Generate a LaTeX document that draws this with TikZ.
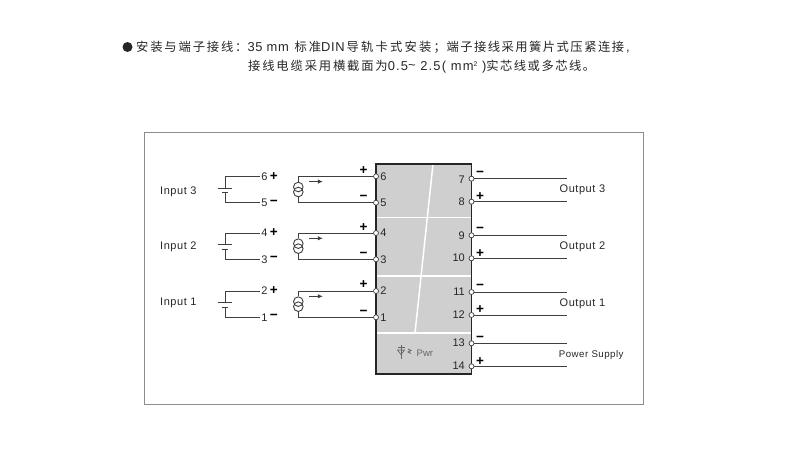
\documentclass[tikz,border=0pt]{standalone}
\usepackage{fontspec}
\setmainfont{Liberation Sans}
\newfontfamily\lab[LetterSpace=5]{Liberation Sans}
\newfontfamily\hdr[LetterSpace=5,Scale=1.05]{Liberation Sans}
\newfontfamily\hdrb[LetterSpace=9,Scale=1.05]{Liberation Sans}
\newfontfamily\cjk[LetterSpace=15]{Noto Sans CJK SC}
\newfontfamily\cjkb[LetterSpace=12]{Noto Sans CJK SC}
\newfontfamily\cjkc[LetterSpace=18]{Noto Sans CJK SC}
\usetikzlibrary{arrows.meta}
\definecolor{boxfill}{HTML}{CFCFCF}
\definecolor{wirec}{HTML}{3F3F3F}
\definecolor{inkc}{HTML}{262626}
\newcommand{\hs}{\fontsize{12.3}{14}\selectfont}
\tikzset{
  x=1pt,y=-1pt,
  wire/.style={draw=wirec,line width=1pt},
  term/.style={circle,draw=wirec,fill=white,line width=0.7pt,inner sep=0pt,minimum size=5pt},
  num/.style={inner sep=0pt,text=inkc,font=\fontsize{11}{12}\selectfont},
  sign/.style={inner sep=0pt,text=black,font=\fontsize{13.5}{14}\selectfont\bfseries},
  lbl/.style={inner sep=0pt,anchor=base west,text=inkc,font=\fontsize{11}{12}\selectfont\lab},
  hline/.style={inner sep=0pt,anchor=base west,text=inkc,font=\hs},
  sep/.style={draw=white,line width=1.5pt}
}
\begin{document}
\begin{tikzpicture}
\useasboundingbox (0,0) rectangle (800,450);
% header
\fill[black!85] (127.5,47) circle (5);
\node[hline] (h1) at (136,51.5) {\cjk 安装与端子接线：\hdr 35 mm \kern1.5pt\cjk 标准\hdr DIN\kern2pt\cjkc 导轨卡式安装；\kern0.5pt\cjkb 端子接线采用簧片式压紧连接\hdr\kern2pt,};
\node[hline] (h2) at (248,70.5) {\cjk 接线电缆采用横截面为\hdrb 0.5\raisebox{1pt}{\textasciitilde} 2.5( mm\raisebox{4.5pt}{\fontsize{6.5}{7}\selectfont 2} )\cjkb 实芯线或多芯线。};
% frame
\draw[draw=black!45,line width=0.9pt] (144.5,132) rectangle (643,404);
% module
\path[fill=boxfill] (376,164) rectangle (471.5,374);
\draw[sep] (376,217.5) -- (471.5,217.5);
\draw[sep] (376,276) -- (471.5,276);
\draw[sep] (376,333) -- (471.5,333);
\draw[sep] (433,164) -- (415,333);
\draw[draw=inkc,line width=1.5pt] (376,164) rectangle (471.5,374);
% input terminals
\foreach \n/\y in {6/176.3,5/202.7,4/233,3/259.3,2/291,1/317.3}{
  \node[term] (L\n) at (376,\y) {};
  \node[num] (LN\n) at (383.5,\y) {\n};
}
\foreach \n/\sy/\s in {6/170.7/+,4/227.3/+,2/285/+,5/198.3/−,3/255/−,1/313/−}{
  \node[sign] (LS\n) at (363.5,\sy) {\s};
}
% output terminals
\foreach \n/\y/\ty/\sy/\s in {7/178.7/180/174.3/−,8/201.7/201.5/196.7/+,9/235.3/235.5/230/−,10/258.3/258/253.3/+,11/292/292/287.3/−,12/315/314.5/310/+,13/343.3/343/339/−,14/366.3/366/361.7/+}{
  \node[term] (R\n) at (471.5,\y) {};
  \node[num,anchor=east] (RN\n) at (465,\ty) {\n};
  \node[sign] (RS\n) at (480,\sy) {\s};
  \coordinate (RE\n) at (566.7,\y);
  \draw[wire] (R\n) -- (RE\n);
}
% input circuits
\foreach \a/\b/\ya/\yb/\nm in {6/5/176.3/202.7/3,4/3/233/259.3/2,2/1/291/317.3/1}{
  \pgfmathsetmacro{\cy}{(\ya+\yb)/2}
  \node[circle,draw=wirec,line width=0.9pt,inner sep=0pt,minimum size=9.6pt] (CA\nm) at (298.3,\cy-2.5) {};
  \node[circle,draw=wirec,line width=0.9pt,inner sep=0pt,minimum size=9.6pt] (CB\nm) at (298.3,\cy+2.5) {};
  \draw[wire] (CA\nm.north) |- (L\a);
  \draw[wire] (CB\nm.south) |- (L\b);
  \draw[draw=wirec,line width=0.8pt,-{Latex[length=5pt,width=4.5pt]}] (309.3,\ya+5.3) -- (322.8,\ya+5.3);
  \coordinate (BA\nm) at (225,\cy-1.5);
  \coordinate (BB\nm) at (225,\cy+3);
  \draw[wire] (218.3,\cy-1.5) -- (231.7,\cy-1.5);
  \draw[wire] (221.7,\cy+3) -- (228.3,\cy+3);
  \coordinate (PA\nm) at (260,\ya);
  \coordinate (PB\nm) at (260,\yb);
  \draw[wire] (BA\nm) |- (PA\nm);
  \draw[wire] (BB\nm) |- (PB\nm);
  \node[num] (PNa\nm) at (264.5,\ya) {\a};
  \node[num] (PNb\nm) at (264.5,\yb) {\b};
  \node[sign] (PSa\nm) at (273.8,\ya) {+};
  \node[sign] (PSb\nm) at (273.8,\yb) {−};
}
% labels
\node[lbl] (I3) at (160,194.7) {Input 3};
\node[lbl] (I2) at (160,249.7) {Input 2};
\node[lbl] (I1) at (160,305.7) {Input 1};
\node[lbl] (O3) at (559.5,192.8) {Output 3};
\node[lbl] (O2) at (559.5,249.8) {Output 2};
\node[lbl] (O1) at (559.5,306.5) {Output 1};
\node[lbl,font=\fontsize{9.7}{11}\selectfont\lab] (PS) at (558.7,357.8) {Power Supply};
% power indicator
\node[inner sep=0pt,anchor=base west,text=black!60,font=\fontsize{9.5}{10}\selectfont] (pwr) at (416.5,356.3) {Pwr};
\begin{scope}[draw=black!60,line width=0.7pt]
\draw (397.5,347) -- (405,347);
\draw (401,345) -- (401,359);
\draw (397.5,350) -- (404.5,350) -- (401,354.5) -- cycle;
\draw (408,349) -- (411,350.5) -- (408,352) -- (411,353.5);
\end{scope}
\end{tikzpicture}
\end{document}
